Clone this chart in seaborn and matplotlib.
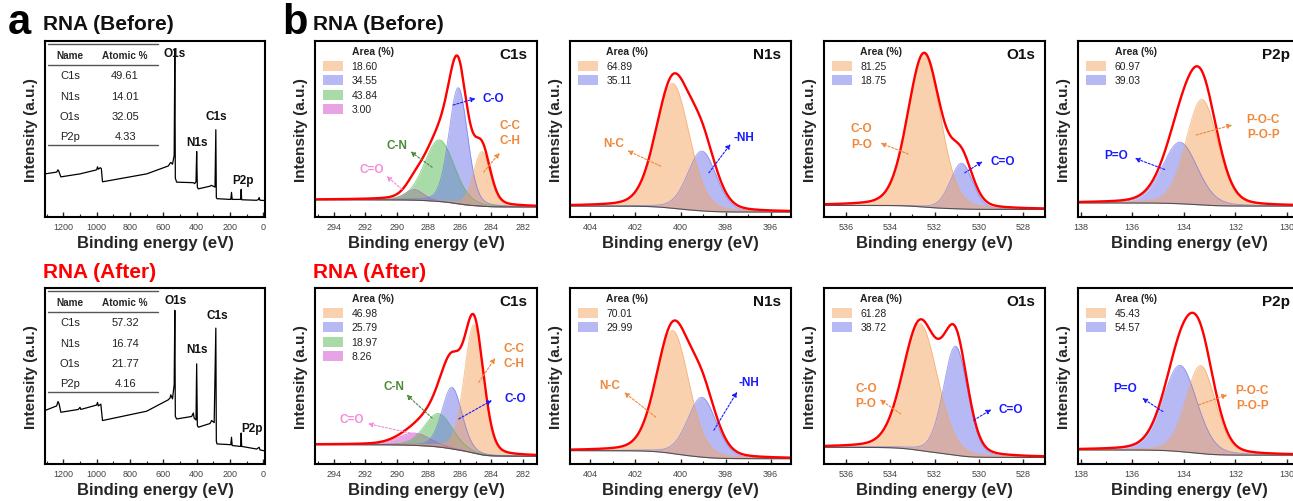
import numpy as np
import matplotlib
matplotlib.use("Agg")
import matplotlib.pyplot as plt
import seaborn as sns
from matplotlib.patches import Rectangle
from matplotlib.ticker import MultipleLocator

sns.set_theme(style="white")
plt.rcParams['font.family'] = ['Liberation Sans', 'DejaVu Sans']

# ---------------- data ----------------
# survey spectra (binding energy eV, normalised intensity)
survey_before_energy = [1310, 1240, 1232, 1228, 1215, 1100, 1000, 995, 990, 978, 972, 965, 700, 570,
                        560, 555, 545, 535, 531, 528, 520, 420, 412, 404, 400, 396, 390, 320, 312,
                        290, 285, 282, 278, 200, 195, 191, 187, 140, 136, 133, 130, 40, 28, 25, 20, 0, -10]
survey_before_intensity = [0.245, 0.255, 0.268, 0.262, 0.228, 0.245, 0.268, 0.285, 0.272, 0.28, 0.275, 0.2,
                           0.245, 0.29, 0.305, 0.31, 0.3, 0.35, 0.953, 0.22, 0.198, 0.195, 0.19, 0.2, 0.372,
                           0.17, 0.16, 0.175, 0.18, 0.17, 0.496, 0.11, 0.104, 0.1, 0.1, 0.14, 0.1, 0.1, 0.1,
                           0.157, 0.098, 0.095, 0.1, 0.11, 0.095, 0.094, 0.094]
survey_after_energy = [1310, 1240, 1232, 1225, 1215, 1110, 1100, 1095, 1000, 995, 990, 975, 965, 700, 570,
                       560, 555, 545, 535, 531, 528, 520, 430, 420, 415, 404, 400, 396, 390, 320, 310,
                       295, 285, 282, 278, 200, 195, 191, 187, 140, 136, 133, 130, 40, 25, 20, 0, -10]
survey_after_intensity = [0.304, 0.33, 0.355, 0.34, 0.294, 0.31, 0.322, 0.31, 0.335, 0.35, 0.33, 0.34, 0.247,
                          0.3, 0.365, 0.375, 0.393, 0.37, 0.45, 0.873, 0.27, 0.256, 0.27, 0.29, 0.26, 0.25,
                          0.569, 0.22, 0.209, 0.23, 0.247, 0.235, 0.772, 0.13, 0.114, 0.11, 0.11, 0.152,
                          0.105, 0.1, 0.1, 0.176, 0.1, 0.085, 0.095, 0.08, 0.076, 0.076]
table_names = ["C1s", "N1s", "O1s", "P2p"]
atomic_before = ["49.61", "14.01", "32.05", "4.33"]
atomic_after = ["57.32", "16.74", "21.77", "4.16"]
survey_peak_names = ["O1s", "N1s", "C1s", "P2p"]

# high resolution fits: centre (eV), height, FWHM (eV), area label
c1s_before_center = [284.6, 286.1, 287.3, 288.9]
c1s_before_height = [0.31, 0.66, 0.35, 0.06]
c1s_before_fwhm = [1.25, 1.4, 2.25, 1.4]
c1s_before_area = ["18.60", "34.55", "43.84", "3.00"]
c1s_before_bg = [0.098, 0.057]

n1s_before_center = [400.35, 399.05]
n1s_before_height = [0.71, 0.34]
n1s_before_fwhm = [1.75, 1.5]
n1s_before_area = ["64.89", "35.11"]
n1s_before_bg = [0.062, 0.028]

o1s_before_center = [532.47, 530.78]
o1s_before_height = [0.87, 0.26]
o1s_before_fwhm = [1.75, 1.2]
o1s_before_area = ["81.25", "18.75"]
o1s_before_bg = [0.066, 0.043]

p2p_before_center = [133.3, 134.15]
p2p_before_height = [0.6, 0.35]
p2p_before_fwhm = [1.45, 1.6]
p2p_before_area = ["60.97", "39.03"]
p2p_before_bg = [0.08, 0.062]

c1s_after_center = [285.1, 286.5, 287.35, 288.9]
c1s_after_height = [0.73, 0.35, 0.19, 0.07]
c1s_after_fwhm = [1.45, 1.5, 2.1, 2.4]
c1s_after_area = ["46.98", "25.79", "18.97", "8.26"]
c1s_after_bg = [0.11, 0.044]

n1s_after_center = [400.35, 399.05]
n1s_after_height = [0.7, 0.34]
n1s_after_fwhm = [1.7, 1.5]
n1s_after_area = ["70.01", "29.99"]
n1s_after_bg = [0.076, 0.03]

o1s_after_center = [532.65, 531.05]
o1s_after_height = [0.72, 0.62]
o1s_after_fwhm = [1.85, 1.3]
o1s_after_area = ["61.28", "38.72"]
o1s_after_bg = [0.095, 0.037]

p2p_after_center = [133.35, 134.15]
p2p_after_height = [0.5, 0.49]
p2p_after_fwhm = [1.35, 1.55]
p2p_after_area = ["45.43", "54.57"]
p2p_after_bg = [0.08, 0.05]

# ---------------- styles ----------------
ORANGE, BLUE, GREEN, PINK = "#F5A55F", "#6E74EB", "#55B955", "#D048C8"
T_ORANGE, T_BLUE, T_GREEN, T_PINK = "#F0873A", "#1A1AFF", "#4C8A3C", "#F58CDC"
W, H = 1293, 502
fig = plt.figure(figsize=(W / 100, H / 100), dpi=100)


def add_ax(x0, x1, ytop, ybot):
    return fig.add_axes([x0 / W, 1 - ybot / H, (x1 - x0) / W, (ybot - ytop) / H])


def style_ax(ax, xlim, major, minor):
    ax.set_xlim(*xlim)
    ax.set_ylim(0, 1)
    ax.set_yticks([])
    ax.xaxis.set_major_locator(MultipleLocator(major))
    ax.xaxis.set_minor_locator(MultipleLocator(minor))
    ax.tick_params(axis='x', which='major', direction='in', length=3.5, width=1, labelsize=6.5,
                   labelcolor='#444', pad=3.5, bottom=True)
    ax.tick_params(axis='x', which='minor', direction='in', length=2, width=0.8, bottom=True)
    for s in ax.spines.values():
        s.set_color('black')
        s.set_linewidth(1.5)
    ax.set_xlabel("Binding energy (eV)", fontsize=12, fontweight='bold', labelpad=3)
    ax.set_ylabel("Intensity (a.u.)", fontsize=11, fontweight='bold', labelpad=5)


def pv(E, c, h, w, m=0.2):
    x = E - c
    return h * ((1 - m) * np.exp(-4 * np.log(2) * x ** 2 / w ** 2) + m / (1 + 4 * x ** 2 / w ** 2))


def hires(ax, xlim, centers, heights, fwhms, bg, areas, colors, name, notes):
    style_ax(ax, xlim, 2, 1)
    E = np.linspace(xlim[0], xlim[1], 800)
    comps = [pv(E, c, h, w) for c, h, w in zip(centers, heights, fwhms)]
    total = np.sum(comps, axis=0)
    cum = np.cumsum(total[::-1])[::-1]
    B = bg[1] + (bg[0] - bg[1]) * cum / cum[0]
    for comp, col in list(zip(comps, colors))[::-1]:
        ax.fill_between(E, B, B + comp, color=col, alpha=0.5, lw=0)
        ax.plot(E, B + comp, color=col, lw=0.6, alpha=0.7)
    ax.plot(E, B, color='#505050', lw=0.8)
    sns.lineplot(x=E, y=B + total, ax=ax, color='#FF0000', lw=1.7)
    # legend
    ax.text(0.165, 0.943, "Area (%)", transform=ax.transAxes, fontsize=7.5, fontweight='bold',
            va='center', ha='left', color='#222')
    for i, (a, col) in enumerate(zip(areas, colors)):
        y = 0.858 - i * 0.082
        ax.add_patch(Rectangle((0.035, y - 0.028), 0.09, 0.056, transform=ax.transAxes,
                               color=col, alpha=0.5, lw=0))
        ax.text(0.165, y, a, transform=ax.transAxes, fontsize=7.5, va='center', ha='left', color='#222')
    ax.text(0.955, 0.925, name, transform=ax.transAxes, fontsize=11, fontweight='bold',
            ha='right', va='center', color='#111')
    for text, col, txy, s, e in notes:
        ax.annotate("", xy=e, xytext=s,
                    arrowprops=dict(arrowstyle="-|>", color=col, lw=0.8, linestyle=(0, (2, 1.5)),
                                    mutation_scale=7, shrinkA=0, shrinkB=0))
        ax.text(txy[0], txy[1], text, color=col, fontsize=8.5, fontweight='bold', ha='center',
                va='center', linespacing=1.35)


def survey(ax, energy, inten, atomic, label_pos):
    style_ax(ax, (1310, -10), 200, 100)
    sns.lineplot(x=energy, y=inten, ax=ax, color='black', lw=0.9, sort=False)
    for n, (x, y) in zip(survey_peak_names, label_pos):
        ax.text(x, y, n, fontsize=8.5, fontweight='bold', ha='center', va='center', color='#111')
    tr = ax.transAxes
    for yl in (0.981, 0.866, 0.409):
        ax.plot([0.015, 0.514], [yl, yl], transform=tr, color='#555', lw=1)
    ax.text(0.114, 0.922, "Name", transform=tr, fontsize=7.2, fontweight='bold', ha='center', va='center')
    ax.text(0.364, 0.922, "Atomic %", transform=tr, fontsize=7.2, fontweight='bold', ha='center', va='center')
    for i, (n, v) in enumerate(zip(table_names, atomic)):
        y = 0.804 - i * 0.114
        ax.text(0.114, y, n, transform=tr, fontsize=8, ha='center', va='center', color='#222')
        ax.text(0.364, y, v, transform=tr, fontsize=8, ha='center', va='center', color='#222')


cols_x = [(315, 537), (570, 791), (824, 1045), (1078, 1300)]
rows_y = [(42, 218), (289, 465)]

# ---- panel a ----
ax = add_ax(45, 265, *rows_y[0])
survey(ax, survey_before_energy, survey_before_intensity, atomic_before,
       [(530, 0.932), (396, 0.428), (284, 0.575), (124, 0.208)])
ax = add_ax(45, 265, *rows_y[1])
survey(ax, survey_after_energy, survey_after_intensity, atomic_after,
       [(526, 0.93), (400, 0.651), (276, 0.844), (70, 0.203)])

# ---- panel b, before ----
r = rows_y[0]
ax = add_ax(*cols_x[0], *r)
hires(ax, (295.2, 281.1), c1s_before_center, c1s_before_height, c1s_before_fwhm, c1s_before_bg,
      c1s_before_area, [ORANGE, BLUE, GREEN, PINK], "C1s",
      [("C-O", T_BLUE, (283.85, 0.674), (286.43, 0.636), (285.0, 0.674)),
       ("C-C\nC-H", T_ORANGE, (282.84, 0.48), (284.49, 0.255), (283.47, 0.364)),
       ("C-N", T_GREEN, (289.98, 0.41), (287.76, 0.283), (289.14, 0.372)),
       ("C=O", T_PINK, (291.57, 0.27), (289.67, 0.157), (290.66, 0.232))])
ax = add_ax(*cols_x[1], *r)
hires(ax, (404.9, 395.1), n1s_before_center, n1s_before_height, n1s_before_fwhm, n1s_before_bg,
      n1s_before_area, [ORANGE, BLUE], "N1s",
      [("N-C", T_ORANGE, (402.98, 0.42), (400.88, 0.289), (402.35, 0.377)),
       ("-NH", T_BLUE, (397.2, 0.457), (398.74, 0.251), (397.78, 0.415))])
ax = add_ax(*cols_x[2], *r)
hires(ax, (537, 527), o1s_before_center, o1s_before_height, o1s_before_fwhm, o1s_before_bg,
      o1s_before_area, [ORANGE, BLUE], "O1s",
      [("C-O\nP-O", T_ORANGE, (535.3, 0.46), (533.19, 0.358), (534.44, 0.42)),
       ("C=O", T_BLUE, (528.9, 0.32), (530.63, 0.251), (529.83, 0.315))])
ax = add_ax(*cols_x[3], *r)
hires(ax, (138.1, 129.5), p2p_before_center, p2p_before_height, p2p_before_fwhm, p2p_before_bg,
      p2p_before_area, [ORANGE, BLUE], "P2p",
      [("P=O", T_BLUE, (136.62, 0.353), (134.74, 0.27), (135.9, 0.334)),
       ("P-O-C\nP-O-P", T_ORANGE, (130.93, 0.515), (133.52, 0.466), (132.13, 0.523))])

# ---- panel b, after ----
r = rows_y[1]
ax = add_ax(*cols_x[0], *r)
hires(ax, (295.2, 281.1), c1s_after_center, c1s_after_height, c1s_after_fwhm, c1s_after_bg,
      c1s_after_area, [ORANGE, BLUE, GREEN, PINK], "C1s",
      [("C-C\nC-H", T_ORANGE, (282.58, 0.615), (284.8, 0.464), (283.75, 0.602)),
       ("C-O", T_BLUE, (282.48, 0.375), (286.07, 0.256), (283.96, 0.362)),
       ("C-N", T_GREEN, (290.2, 0.445), (287.76, 0.261), (289.39, 0.394)),
       ("C=O", T_PINK, (292.84, 0.256), (289.14, 0.176), (291.84, 0.229))])
ax = add_ax(*cols_x[1], *r)
hires(ax, (404.9, 395.1), n1s_after_center, n1s_after_height, n1s_after_fwhm, n1s_after_bg,
      n1s_after_area, [ORANGE, BLUE], "N1s",
      [("N-C", T_ORANGE, (403.16, 0.448), (401.1, 0.267), (402.5, 0.407)),
       ("-NH", T_BLUE, (396.98, 0.466), (398.52, 0.192), (397.49, 0.41))])
ax = add_ax(*cols_x[2], *r)
hires(ax, (537, 527), o1s_after_center, o1s_after_height, o1s_after_fwhm, o1s_after_bg,
      o1s_after_area, [ORANGE, BLUE], "O1s",
      [("C-O\nP-O", T_ORANGE, (535.1, 0.39), (533.53, 0.285), (534.47, 0.366)),
       ("C=O", T_BLUE, (528.53, 0.31), (530.23, 0.248), (529.43, 0.31))])
ax = add_ax(*cols_x[3], *r)
hires(ax, (138.1, 129.5), p2p_after_center, p2p_after_height, p2p_after_fwhm, p2p_after_bg,
      p2p_after_area, [ORANGE, BLUE], "P2p",
      [("P=O", T_BLUE, (136.26, 0.43), (134.81, 0.298), (135.61, 0.374)),
       ("P-O-C\nP-O-P", T_ORANGE, (131.35, 0.38), (133.42, 0.336), (132.32, 0.393))])

# ---- titles ----
def ftext(x, y, s, **kw):
    fig.text(x / W, 1 - y / H, s, va='baseline', ha='left', fontweight='bold', **kw)

ftext(8, 34, "a", fontsize=30, color='black')
ftext(43, 30, "RNA (Before)", fontsize=15, color='#111')
ftext(282, 34, "b", fontsize=30, color='black')
ftext(313, 30, "RNA (Before)", fontsize=15, color='#111')
ftext(43, 278, "RNA (After)", fontsize=15, color='#FF0000')
ftext(313, 278, "RNA (After)", fontsize=15, color='#FF0000')

fig.savefig("out.png", dpi=100)
